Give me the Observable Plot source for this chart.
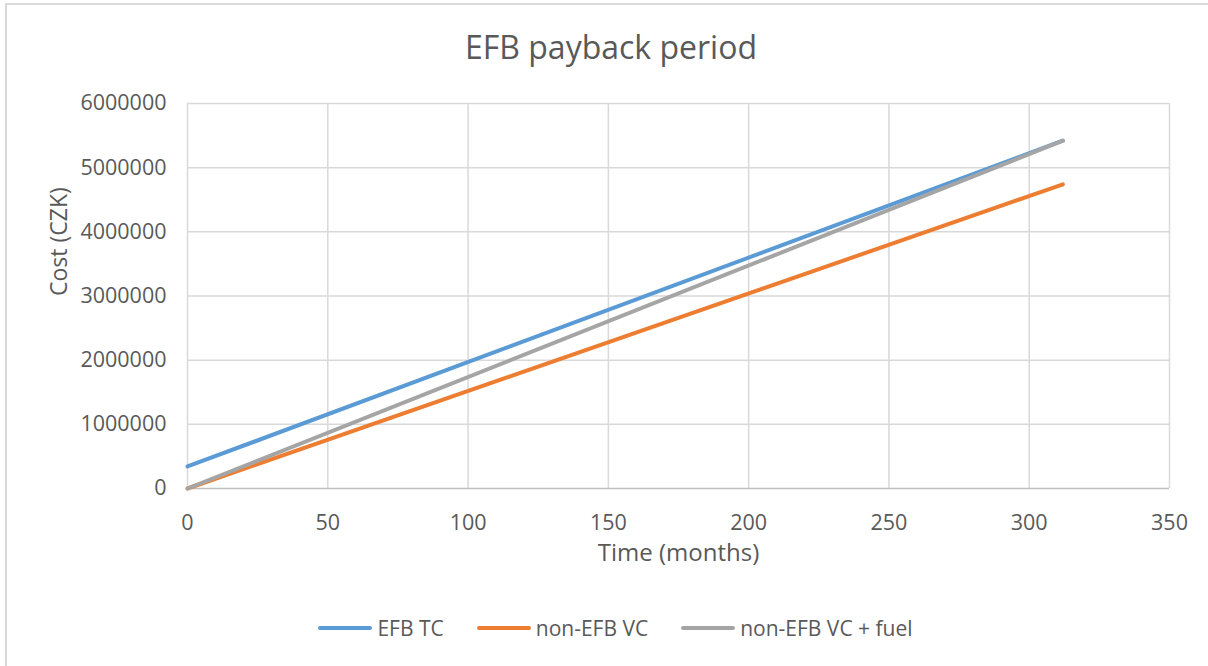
<!DOCTYPE html>
<html>
<head>
<meta charset="utf-8">
<script src="https://cdn.jsdelivr.net/npm/d3@7"></script>
<script src="https://cdn.jsdelivr.net/npm/@observablehq/plot@0.6"></script>
<style>
  html, body { margin: 0; padding: 0; background: #fff; }
  body { width: 1208px; height: 666px; overflow: hidden; position: relative; font-family: "Open Sans", sans-serif; color: #595959; }
  #frame { position: absolute; left: 5px; top: 3px; width: 1300px; height: 800px; border-left: 2px solid #d9d9d9; border-top: 2px solid #d9d9d9; box-sizing: border-box; }
  #title { position: absolute; left: 0; top: 24px; width: 1222px; text-align: center; font-size: 32px; line-height: 46px; color: #595959; }
  #chart { position: absolute; left: 0; top: 80px; }
  #legend { position: absolute; left: 0; top: 613px; width: 1231px; display: flex; justify-content: center; gap: 33px; font-size: 21px; line-height: 30px; color: #595959; }
  .item { display: flex; align-items: center; gap: 5px; }
  .sw { width: 54px; height: 4px; border-radius: 2px; display: inline-block; }
</style>
</head>
<body>
<div id="frame"></div>
<div id="title">EFB payback period</div>
<div id="chart"></div>
<div id="legend"></div>
<script>
const series = ["EFB TC", "non-EFB VC", "non-EFB VC + fuel"];
const colors = ["#5B9BD5", "#ED7D31", "#A5A5A5"];
const months = [0, 312];
const efbTC = [343000, 5420000];
const nonEfbVC = [0, 4740000];
const nonEfbVCFuel = [0, 5420000];
const xTicks = [0, 50, 100, 150, 200, 250, 300, 350];
const yTicks = [0, 1000000, 2000000, 3000000, 4000000, 5000000, 6000000];

const values = [efbTC, nonEfbVC, nonEfbVCFuel];
const data = [];
series.forEach((s, i) => months.forEach((m, j) => data.push({series: s, month: m, cost: values[i][j]})));

const plot = Plot.plot({
  width: 1208,
  height: 500,
  marginTop: 23,
  marginBottom: 92,
  marginLeft: 187,
  marginRight: 39,
  style: {fontFamily: "Open Sans, sans-serif", fontSize: "21.5px", color: "#595959", background: "transparent"},
  x: {domain: [0, 350], label: null},
  y: {domain: [0, 6000000], label: null},
  color: {domain: series, range: colors},
  marks: [
    Plot.ruleX(xTicks, {stroke: "#d9d9d9", strokeWidth: 1.5}),
    Plot.ruleY(yTicks.slice(1), {stroke: "#d9d9d9", strokeWidth: 1.5}),
    Plot.ruleY([0], {stroke: "#bfbfbf", strokeWidth: 1.5}),
    Plot.axisX({ticks: xTicks, tickSize: 0, tickPadding: 26, fontSize: 21.5, fill: "#595959", label: null}),
    Plot.axisY({ticks: yTicks, tickSize: 0, tickPadding: 21, fontSize: 21.5, fill: "#595959", label: null, tickFormat: d => String(d)}),
    Plot.text(["Time (months)"], {frameAnchor: "bottom", lineAnchor: "middle", dy: 65, fontSize: 24, fill: "#595959"}),
    Plot.text(["Cost (CZK)"], {frameAnchor: "left", lineAnchor: "middle", dx: -128, rotate: -90, fontSize: 23, fill: "#595959"}),
    Plot.line(data, {x: "month", y: "cost", z: "series", stroke: "series", strokeWidth: 4, strokeLinecap: "round"})
  ]
});
document.getElementById("chart").appendChild(plot);

const legend = document.getElementById("legend");
series.forEach((s, i) => {
  const item = document.createElement("div");
  item.className = "item";
  const sw = document.createElement("span");
  sw.className = "sw";
  sw.style.background = colors[i];
  const t = document.createElement("span");
  t.textContent = s;
  item.appendChild(sw);
  item.appendChild(t);
  legend.appendChild(item);
});
</script>
</body>
</html>
